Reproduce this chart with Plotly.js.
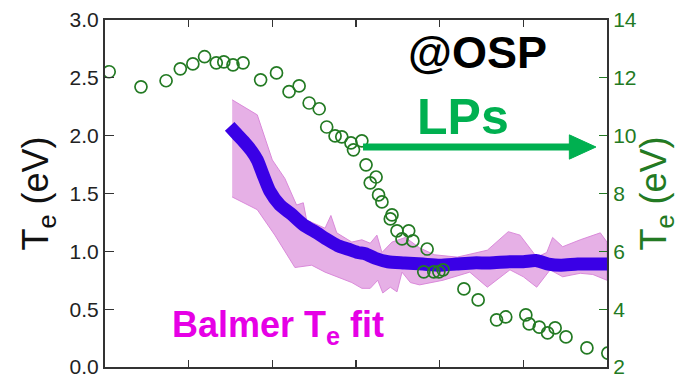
<!DOCTYPE html>
<html>
<head>
<meta charset="utf-8">
<script src="https://cdn.plot.ly/plotly-3.0.1.min.js"></script>
<style>html,body{margin:0;padding:0;background:#fff;}#chart{width:679px;height:377px;}</style>
</head>
<body>
<div id="chart"></div>
<script>
// Langmuir probe (LPs) Te, right axis (eV)
const lpX = [0.05,0.43,0.73,0.90,1.05,1.19,1.33,1.42,1.53,1.65,1.86,2.05,2.20,2.32,2.44,2.56,2.65,2.75,2.83,2.94,2.97,3.07,3.12,3.24,3.17,3.27,3.31,3.43,3.41,3.49,3.63,3.55,3.68,3.85,3.81,3.93,3.99,4.04,4.29,4.46,4.68,4.79,5.03,5.07,5.19,5.29,5.38,5.51,5.76,6.01];
const lpTe = [12.21,11.69,11.90,12.31,12.48,12.73,12.52,12.55,12.45,12.52,11.93,12.17,11.52,11.72,11.13,10.93,10.30,9.99,9.96,9.75,9.51,9.82,8.99,8.57,8.37,7.95,7.71,7.26,7.12,6.71,6.71,6.43,6.36,6.08,5.29,5.29,5.29,5.36,4.70,4.32,3.63,3.73,3.80,3.49,3.38,3.18,3.35,3.04,2.66,2.48];

// Balmer Te fit, left axis (eV)
const balmerX = [1.49,1.58,1.67,1.75,1.82,1.89,1.97,2.09,2.23,2.37,2.53,2.66,2.78,2.90,3.02,3.11,3.23,3.38,3.58,3.80,4.00,4.20,4.40,4.60,4.84,5.00,5.15,5.30,5.45,5.65,5.85,6.00];
const balmerTe = [2.08,2.01,1.94,1.87,1.79,1.66,1.52,1.40,1.32,1.23,1.16,1.10,1.05,1.02,0.99,0.98,0.94,0.91,0.90,0.89,0.88,0.89,0.90,0.90,0.91,0.91,0.92,0.89,0.88,0.89,0.89,0.89];

// Balmer fit uncertainty band
const upperX = [1.52,1.82,2.00,2.15,2.29,2.37,2.41,2.63,2.70,2.77,2.95,3.07,3.17,3.25,3.31,3.43,3.59,3.76,3.94,4.21,4.57,4.82,4.96,5.16,5.28,5.35,5.47,5.68,5.92,6.00];
const upperTe = [2.31,2.18,1.79,1.63,1.40,1.42,1.27,1.20,1.31,1.16,1.08,1.10,1.07,1.14,0.99,1.08,1.12,1.03,0.97,0.95,1.01,1.17,1.14,0.95,0.99,1.12,1.04,1.10,1.16,1.08];
const lowerX = [1.52,1.82,2.03,2.27,2.47,2.63,2.95,3.07,3.17,3.26,3.32,3.41,3.49,3.55,3.65,3.76,4.04,4.36,4.57,4.84,5.00,5.16,5.32,5.47,5.68,5.83,6.00];
const lowerTe = [1.47,1.36,1.14,0.86,0.88,0.82,0.73,0.68,0.68,0.75,0.64,0.69,0.65,0.82,0.73,0.71,0.75,0.82,0.69,0.84,0.78,0.69,0.84,0.78,0.81,0.80,0.75];

const xTicks = [1,2,3,4,5];
const leftTicks = [0,0.5,1.0,1.5,2.0,2.5,3.0];
const rightTicks = [2,4,6,8,10,12,14];

const FONT = 'Liberation Sans, Arial, sans-serif';
const GREEN = '#237a23';

const bandX = upperX.concat(lowerX.slice().reverse());
const bandY = upperTe.concat(lowerTe.slice().reverse());

const traces = [
  {x: bandX, y: bandY, type: 'scatter', mode: 'lines', fill: 'toself',
   fillcolor: 'rgba(222,150,222,0.75)', line: {color: 'rgba(215,130,215,0.9)', width: 1},
   hoverinfo: 'skip', showlegend: false},
  {x: balmerX, y: balmerTe, type: 'scatter', mode: 'lines',
   line: {color: '#3a00e6', width: 13, shape: 'spline', smoothing: 0.6}, showlegend: false},
  {x: lpX, y: lpTe, type: 'scatter', mode: 'markers', yaxis: 'y2',
   marker: {symbol: 'circle-open', size: 12, color: GREEN, line: {width: 1.7, color: GREEN}},
   showlegend: false}
];

const layout = {
  width: 679, height: 377,
  margin: {l: 105, r: 72, t: 20, b: 10, pad: 0},
  paper_bgcolor: '#fff', plot_bgcolor: '#fff',
  font: {family: FONT},
  xaxis: {range: [0, 6], tickvals: xTicks, showticklabels: false, ticks: 'inside', ticklen: 7,
          tickcolor: '#333', tickwidth: 1.2, showgrid: false, zeroline: false,
          showline: true, linecolor: '#333', linewidth: 2, mirror: 'ticks'},
  yaxis: {range: [0, 3], tickvals: leftTicks, tickformat: '.1f', ticks: 'inside', ticklen: 9,
          tickcolor: '#333', tickwidth: 1.2, showgrid: false, zeroline: false,
          showline: true, linecolor: '#333', linewidth: 2, ticklabeloverflow: 'allow',
          tickfont: {size: 21, color: '#222', family: FONT},
          title: {text: 'T<sub>e</sub> (eV)', font: {size: 36, color: '#111', family: FONT}, standoff: 10}},
  yaxis2: {range: [2, 14], tickvals: rightTicks, overlaying: 'y', side: 'right', ticks: 'inside', ticklen: 8,
           tickcolor: GREEN, tickwidth: 1.2, showgrid: false, zeroline: false,
           showline: true, linecolor: '#333', linewidth: 2, ticklabeloverflow: 'allow',
           tickfont: {size: 21, color: GREEN, family: FONT},
           title: {text: 'T<sub>e</sub> (eV)', font: {size: 36, color: GREEN, family: FONT}, standoff: 6}},
  shapes: [
    {type: 'line', xref: 'paper', yref: 'paper', x0: 0.514, x1: 0.935, y0: 0.634, y1: 0.634,
     line: {color: '#00b050', width: 7}},
    {type: 'path', xref: 'paper', yref: 'paper', path: 'M 0.925 0.669 L 0.978 0.634 L 0.925 0.599 Z',
     fillcolor: '#00b050', line: {color: '#00b050', width: 1}}
  ],
  annotations: [
    {text: '<b>@OSP</b>', xref: 'paper', yref: 'paper', x: 0.743, y: 0.905, xanchor: 'center', yanchor: 'middle',
     showarrow: false, font: {size: 45, color: '#000', family: FONT}},
    {text: '<b>LPs</b>', xref: 'paper', yref: 'paper', x: 0.713, y: 0.72, xanchor: 'center', yanchor: 'middle',
     showarrow: false, font: {size: 50, color: '#00b050', family: FONT}},
    {text: '<b>Balmer T<sub>e</sub> fit</b>', xref: 'paper', yref: 'paper', x: 0.345, y: 0.115, xanchor: 'center', yanchor: 'middle',
     showarrow: false, font: {size: 36, color: '#e600e6', family: FONT}}
  ]
};

Plotly.newPlot('chart', traces, layout, {displayModeBar: false, staticPlot: true});
</script>
</body>
</html>
